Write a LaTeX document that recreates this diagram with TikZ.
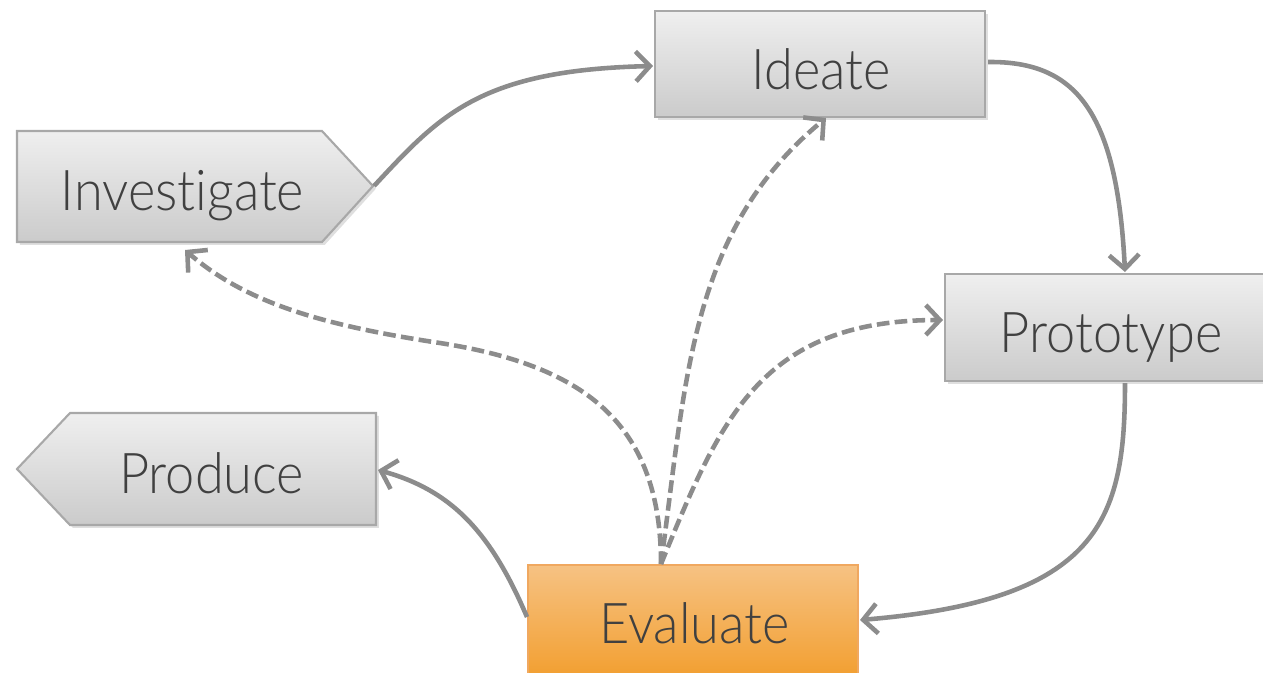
\documentclass[tikz,border=0pt]{standalone}
\usepackage{fontspec}
\setmainfont{Lato}[UprightFont=* Light, FakeStretch=0.93, RawFeature={-liga}]
\usetikzlibrary{arrows.meta,shadows}
\definecolor{boxtop}{HTML}{EFEFEF}
\definecolor{boxbot}{HTML}{CBCBCB}
\definecolor{boxline}{HTML}{A8A8A8}
\definecolor{evtop}{HTML}{F6C283}
\definecolor{evbot}{HTML}{F29E2E}
\definecolor{evline}{HTML}{F0A860}
\definecolor{arr}{HTML}{8C8C8C}
\definecolor{txt}{HTML}{404040}
\tikzset{
  graybox/.style={draw=boxline, line width=0.6pt, top color=boxtop, bottom color=boxbot,
    drop shadow={opacity=0.25, shadow xshift=0.8pt, shadow yshift=-0.8pt}},
  orangebox/.style={draw=evline, line width=0.6pt, top color=evtop, bottom color=evbot},
  rectbox/.style={rectangle, inner sep=0pt},
  lbl/.style={anchor=base, inner sep=0pt, text=txt, font=\fontsize{16}{19}\selectfont},
  flow/.style={draw=arr, line width=1.3pt, -{Straight Barb[length=4pt,width=8.5pt]}},
  back/.style={flow, dash pattern=on 3.6pt off 1.5pt}
}
\begin{document}
\begin{tikzpicture}[x=0.01cm, y=-0.01cm]
\useasboundingbox (0,0) rectangle (1263,672);
% boxes
\node[rectbox, graybox, minimum width=3.3cm, minimum height=1.06cm] (ideate) at (820,64) {};
\node[rectbox, graybox, minimum width=3.32cm, minimum height=1.07cm] (proto) at (1111,327.5) {};
\node[rectbox, orangebox, minimum width=3.3cm, minimum height=1.15cm] (eval) at (693,622.5) {};
\path[graybox] (17,131) -- (322,131) -- (373,186) -- (322,242) -- (17,242) -- cycle;
\path[graybox] (17,469) -- (70,413) -- (376,413) -- (376,525) -- (70,525) -- cycle;
% labels
\node[lbl] (tideate) at (821,89) {Ideate};
\node[lbl] (tinv) at (182.5,210) {Investigate};
\node[lbl] (tprod) at (211.5,493) {Produce};
\node[lbl] (tproto) at (1111,352) {Prototype};
\node[lbl] (teval) at (694.5,643) {Evaluate};
% connector points
\coordinate (invtip) at (374,186);
\coordinate (ideL) at (653,66);
\coordinate (ideR) at (988,62);
\coordinate (ideB) at (826,118);
\coordinate (proT) at (1125,272);
\coordinate (proB) at (1125,383);
\coordinate (proL) at (943,320);
\coordinate (evR) at (860,620);
\coordinate (evL) at (527,617);
\coordinate (evT) at (661,564);
\coordinate (prodR) at (378,470);
\coordinate (invB) at (185,250);
% solid flow
\draw[flow] (invtip) .. controls (440,115) and (480,70) .. (ideL);
\draw[flow] (ideR) .. controls (1075,61) and (1117,110) .. (proT);
\draw[flow] (proB) .. controls (1125,520) and (1100,600) .. (evR);
\draw[flow] (evL) .. controls (490,530) and (450,490) .. (prodR);
% dashed feedback
\draw[back] (evT) .. controls (661,420) and (580,365) .. (440,343) .. controls (320,325) and (245,302) .. (invB);
\draw[back] (evT) .. controls (686,380) and (690,230) .. (ideB);
\draw[back] (evT) .. controls (720,420) and (760,320) .. (proL);
\end{tikzpicture}
\end{document}
